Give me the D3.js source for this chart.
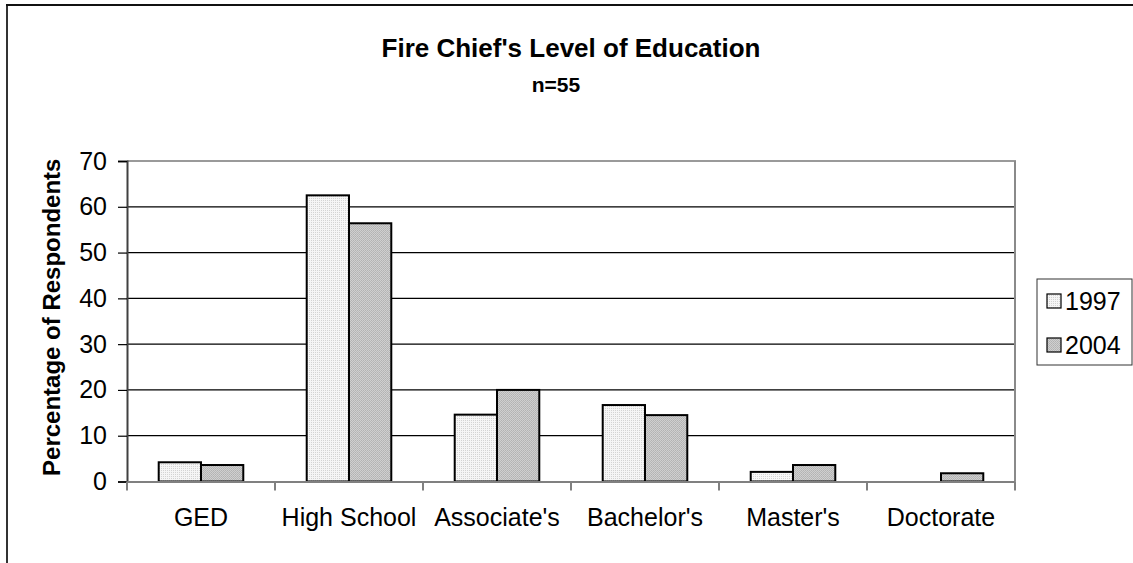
<!DOCTYPE html>
<html>
<head>
<meta charset="utf-8">
<script src="https://cdn.jsdelivr.net/npm/d3@7"></script>
<style>
  html, body { margin: 0; padding: 0; background: #fff; }
  svg { display: block; font-family: "Liberation Sans", Arial, sans-serif; }
</style>
</head>
<body>
<svg id="chart" width="1133" height="563"></svg>
<script>
const categories = ["GED", "High School", "Associate's", "Bachelor's", "Master's", "Doctorate"];
const seriesNames = ["1997", "2004"];
const values1997 = [4.2, 62.5, 14.6, 16.7, 2.1, 0];
const values2004 = [3.6, 56.4, 20.0, 14.5, 3.6, 1.8];
const yTicks = [0, 10, 20, 30, 40, 50, 60, 70];
const titleText = "Fire Chief's Level of Education";
const subtitleText = "n=55";
const yTitle = "Percentage of Respondents";

const seriesValues = { "1997": values1997, "2004": values2004 };

const svg = d3.select("#chart");
const W = 1133, H = 563;
const plot = { left: 127, right: 1015, top: 161, bottom: 481.5 };

// patterns
const defs = svg.append("defs");
const p1 = defs.append("pattern").attr("id", "pat1997").attr("patternUnits", "userSpaceOnUse")
  .attr("width", 2).attr("height", 2);
p1.append("rect").attr("width", 2).attr("height", 2).attr("fill", "#f6f6f6");
p1.append("rect").attr("x", 0).attr("y", 0).attr("width", 1).attr("height", 1).attr("fill", "#d4d4d4");
const p2 = defs.append("pattern").attr("id", "pat2004").attr("patternUnits", "userSpaceOnUse")
  .attr("width", 2).attr("height", 2);
p2.append("rect").attr("width", 2).attr("height", 2).attr("fill", "#cfcfcf");
p2.append("rect").attr("x", 0).attr("y", 0).attr("width", 1).attr("height", 1).attr("fill", "#b2b2b2");
p2.append("rect").attr("x", 1).attr("y", 1).attr("width", 1).attr("height", 1).attr("fill", "#b8b8b8");
const fills = { "1997": "url(#pat1997)", "2004": "url(#pat2004)" };

// outer chart border (left and top visible)
svg.append("line").attr("x1", 7).attr("x2", 7).attr("y1", 5).attr("y2", H)
  .attr("stroke", "#333").attr("stroke-width", 2);
svg.append("line").attr("x1", 6).attr("x2", W).attr("y1", 5).attr("y2", 5)
  .attr("stroke", "#111").attr("stroke-width", 2);

// titles
svg.append("text").attr("x", 571).attr("y", 57).attr("text-anchor", "middle")
  .attr("font-size", 26).attr("font-weight", "bold").attr("fill", "#000").text(titleText);
svg.append("text").attr("x", 556).attr("y", 92).attr("text-anchor", "middle")
  .attr("font-size", 21).attr("font-weight", "bold").attr("fill", "#000").text(subtitleText);

// scales
const x0 = d3.scaleBand().domain(categories).range([plot.left, plot.right]).padding(0);
const x1 = d3.scaleBand().domain(seriesNames).range([0, x0.bandwidth()]).paddingInner(0).paddingOuter(0.75);
const y = d3.scaleLinear().domain([0, 70]).range([plot.bottom, plot.top]);

// gridlines
svg.append("g").selectAll("line").data(yTicks.filter(t => t > 0 && t < 70)).join("line")
  .attr("x1", plot.left).attr("x2", plot.right)
  .attr("y1", d => y(d)).attr("y2", d => y(d))
  .attr("stroke", "#000").attr("stroke-width", 1.2);

// plot border top & right
svg.append("line").attr("x1", plot.left).attr("x2", plot.right + 1).attr("y1", y(70)).attr("y2", y(70))
  .attr("stroke", "#9a9a9a").attr("stroke-width", 2);
svg.append("line").attr("x1", plot.right).attr("x2", plot.right).attr("y1", y(70)).attr("y2", plot.bottom)
  .attr("stroke", "#8a8a8a").attr("stroke-width", 2);

// bars
const groups = svg.append("g").selectAll("g").data(categories).join("g")
  .attr("transform", d => `translate(${x0(d)},0)`);
groups.selectAll("rect")
  .data((c, i) => seriesNames.map(s => ({ s, v: seriesValues[s][i] })).filter(d => d.v > 0))
  .join("rect")
  .attr("x", d => x1(d.s))
  .attr("width", x1.bandwidth())
  .attr("y", d => y(d.v))
  .attr("height", d => y(0) - y(d.v))
  .attr("fill", d => fills[d.s])
  .attr("stroke", "#000").attr("stroke-width", 2);

// y axis
const yAxis = svg.append("g").attr("transform", `translate(${plot.left},0)`)
  .call(d3.axisLeft(y).tickValues(yTicks).tickSize(9).tickPadding(11).tickFormat(d3.format("d")));
yAxis.select(".domain").attr("stroke", "#404040").attr("stroke-width", 2);
yAxis.selectAll(".tick line").attr("stroke", "#000").attr("stroke-width", 1.2);
yAxis.selectAll(".tick text").attr("font-size", 25).attr("fill", "#000")
  .attr("font-family", "'Liberation Sans', Arial, sans-serif");

// x axis
const xAxis = svg.append("g").attr("transform", `translate(0,${plot.bottom})`)
  .call(d3.axisBottom(x0).tickSize(0).tickPadding(27));
xAxis.select(".domain").attr("stroke", "#808080").attr("stroke-width", 2);
xAxis.selectAll(".tick text").attr("font-size", 25).attr("fill", "#000")
  .attr("font-family", "'Liberation Sans', Arial, sans-serif");
const boundaries = categories.map(c => x0(c)).concat([x0.range()[1]]);
svg.append("g").selectAll("line").data(boundaries).join("line")
  .attr("x1", d => d).attr("x2", d => d)
  .attr("y1", plot.bottom).attr("y2", plot.bottom + 9)
  .attr("stroke", "#808080").attr("stroke-width", 2);

// y title
svg.append("text")
  .attr("transform", `translate(60,${(plot.top + plot.bottom) / 2 - 4}) rotate(-90)`)
  .attr("text-anchor", "middle").attr("font-size", 24).attr("font-weight", "bold")
  .attr("fill", "#000").text(yTitle);

// legend
const lg = svg.append("g");
lg.append("rect").attr("x", 1037).attr("y", 279).attr("width", 95).attr("height", 86)
  .attr("fill", "#fff").attr("stroke", "#333").attr("stroke-width", 1);
const ly = d3.scalePoint().domain(seriesNames).range([301, 345]);
const items = lg.selectAll("g").data(seriesNames).join("g")
  .attr("transform", d => `translate(1047,${ly(d)})`);
items.append("rect").attr("x", 0).attr("y", -7).attr("width", 14).attr("height", 14)
  .attr("fill", d => fills[d]).attr("stroke", "#000").attr("stroke-width", 1.2);
items.append("text").attr("x", 18).attr("y", 0).attr("dy", "0.35em")
  .attr("font-size", 25).attr("fill", "#000").text(d => d);
</script>
</body>
</html>
